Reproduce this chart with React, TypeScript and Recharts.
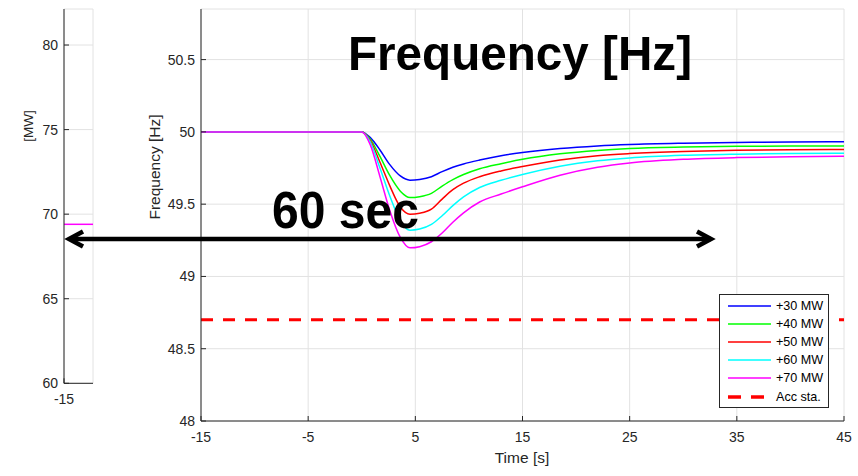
import { LineChart, Line, XAxis, YAxis, CartesianGrid, ReferenceLine } from "recharts";

// time axis in seconds, frequency in Hz
const time = [-15, 0, 0.8, 1.7, 2.6, 3.6, 4.5, 5.4, 6.5, 7.5, 8.5, 9.5, 11, 13, 15, 18.5, 22, 25, 30, 35, 40, 45];
const mw30 = [50, 50, 49.96, 49.875, 49.775, 49.695, 49.666, 49.671, 49.69, 49.725, 49.755, 49.778, 49.805, 49.835, 49.857, 49.885, 49.903, 49.913, 49.922, 49.927, 49.93, 49.931];
const mw40 = [50, 50, 49.95, 49.83, 49.7, 49.59, 49.546, 49.552, 49.575, 49.625, 49.67, 49.705, 49.745, 49.78, 49.81, 49.848, 49.872, 49.885, 49.895, 49.9, 49.902, 49.903];
const mw50 = [50, 50, 49.94, 49.79, 49.63, 49.48, 49.43, 49.437, 49.465, 49.535, 49.6, 49.645, 49.69, 49.73, 49.76, 49.805, 49.835, 49.85, 49.865, 49.873, 49.877, 49.878];
const mw60 = [50, 50, 49.93, 49.75, 49.56, 49.385, 49.32, 49.328, 49.36, 49.42, 49.49, 49.55, 49.615, 49.665, 49.705, 49.762, 49.8, 49.82, 49.838, 49.846, 49.85, 49.852];
const mw70 = [50, 50, 49.91, 49.69, 49.46, 49.27, 49.198, 49.206, 49.24, 49.3, 49.375, 49.44, 49.515, 49.57, 49.62, 49.7, 49.755, 49.785, 49.81, 49.822, 49.828, 49.832];
const accSta = 48.7;

const timeTicks = [-15, -5, 5, 15, 25, 35, 45];
const freqTicks = [48, 48.5, 49, 49.5, 50, 50.5];

// left (cut off) power panel
const mwTime = [-15, -12];
const mwPower = [69.4, 69.4];
const mwTicks = [60, 65, 70, 75, 80];
const mwTimeTicks = [-15];

const series = [
  { key: "mw30", name: "+30 MW", color: "#0000ff", values: mw30 },
  { key: "mw40", name: "+40 MW", color: "#00ff00", values: mw40 },
  { key: "mw50", name: "+50 MW", color: "#ff0000", values: mw50 },
  { key: "mw60", name: "+60 MW", color: "#00ffff", values: mw60 },
  { key: "mw70", name: "+70 MW", color: "#ff00ff", values: mw70 },
];

const data = time.map((t, i) => {
  const row: Record<string, number> = { t };
  series.forEach((s) => (row[s.key] = s.values[i]));
  return row;
});

const mwData = mwTime.map((t, i) => ({ t, p: mwPower[i] }));

const FONT = "'Liberation Sans', Arial, Helvetica, sans-serif";
const AX = "#262626";
const GRID = "#e2e2e2";

const XTick = (props: any) => {
  const { x, y, payload } = props;
  return (
    <g>
      <line x1={x} x2={x} y1={y - 4} y2={y - 9} stroke={AX} />
      <text x={x} y={y} dy={17} textAnchor="middle" fill={AX} fontSize={14} fontFamily={FONT}>
        {payload.value}
      </text>
    </g>
  );
};

const YTick = (props: any) => {
  const { x, y, payload } = props;
  return (
    <g>
      <line x1={x + 6} x2={x + 11} y1={y} y2={y} stroke={AX} />
      <text x={x} y={y} dy={5} textAnchor="end" fill={AX} fontSize={14} fontFamily={FONT}>
        {payload.value}
      </text>
    </g>
  );
};

export default function App() {
  return (
    <div style={{ position: "absolute", left: 0, top: 0, width: 858, height: 476, background: "#fff", fontFamily: FONT }}>
      <div style={{ position: "absolute", left: 0, top: 0 }}>
        <LineChart width={100} height={476} data={mwData} margin={{ top: 9, right: 7, left: 14, bottom: 62.7 }}>
          <CartesianGrid stroke={GRID} />
          <XAxis
            type="number"
            dataKey="t"
            domain={[-15, -12]}
            ticks={mwTimeTicks}
            interval={0}
            height={30}
            tickSize={0}
            tickMargin={4}
            tick={XTick}
            axisLine={{ stroke: AX }}
          />
          <YAxis
            type="number"
            domain={[60, 82.13]}
            ticks={mwTicks}
            interval={0}
            width={50}
            tickSize={0}
            tickMargin={6}
            tick={YTick}
            axisLine={{ stroke: AX }}
          />
          <Line type="linear" dataKey="p" stroke="#ff00ff" strokeWidth={1.5} dot={false} isAnimationActive={false} />
        </LineChart>
      </div>

      <div style={{ position: "absolute", left: 0, top: 0 }}>
        <LineChart width={858} height={476} data={data} margin={{ top: 9, right: 14, left: 141, bottom: 25 }}>
          <CartesianGrid stroke={GRID} />
          <XAxis
            type="number"
            dataKey="t"
            domain={[-15, 45]}
            ticks={timeTicks}
            interval={0}
            height={30}
            tickSize={0}
            tickMargin={4}
            tick={XTick}
            axisLine={{ stroke: AX }}
          />
          <YAxis
            type="number"
            domain={[48, 50.85]}
            ticks={freqTicks}
            interval={0}
            width={60}
            tickSize={0}
            tickMargin={6}
            tick={YTick}
            axisLine={{ stroke: AX }}
          />
          <ReferenceLine y={accSta} stroke="#ff0000" strokeWidth={3} strokeDasharray="12 10" />
          {series.map((s) => (
            <Line
              key={s.key}
              type="monotone"
              dataKey={s.key}
              stroke={s.color}
              strokeWidth={1.5}
              dot={false}
              isAnimationActive={false}
            />
          ))}
        </LineChart>
      </div>

      <svg width={858} height={476} style={{ position: "absolute", left: 0, top: 0, pointerEvents: "none" }}>
        <text x={28} y={126} transform="rotate(-90 28 126)" textAnchor="middle" dominantBaseline="central" fontSize={13.5} fill={AX} fontFamily={FONT}>
          [MW]
        </text>
        <text x={154} y={167} transform="rotate(-90 154 167)" textAnchor="middle" dominantBaseline="central" fontSize={15.5} fill={AX} fontFamily={FONT}>
          Frequency [Hz]
        </text>
        <text x={522} y={463} textAnchor="middle" fontSize={15.5} fill={AX} fontFamily={FONT}>
          Time [s]
        </text>
        <text x={348} y={70} fontSize={49} fontWeight="bold" fill="#000" fontFamily={FONT} textLength={344} lengthAdjust="spacingAndGlyphs">
          Frequency [Hz]
        </text>
        <text x={272} y={228} fontSize={52} fontWeight="bold" fill="#000" fontFamily={FONT} textLength={147} lengthAdjust="spacingAndGlyphs">
          60 sec
        </text>
        <line x1={70} x2={711} y1={239} y2={239} stroke="#000" strokeWidth={4.5} />
        <polyline points="83,231.5 69,239 83,246.5" fill="none" stroke="#000" strokeWidth={4.5} />
        <polyline points="697,231.5 711,239 697,246.5" fill="none" stroke="#000" strokeWidth={4.5} />
      </svg>

      <div
        style={{
          position: "absolute",
          left: 719,
          top: 294,
          width: 110,
          height: 114,
          boxSizing: "border-box",
          border: `1px solid ${AX}`,
          background: "#fff",
          paddingTop: 2,
          fontSize: 12.6,
          color: "#000",
        }}
      >
        {series.map((s) => (
          <div key={s.key} style={{ display: "flex", alignItems: "center", height: 18.1 }}>
            <svg width={43} height={4} style={{ marginLeft: 8 }}>
              <line x1={0} x2={43} y1={2} y2={2} stroke={s.color} strokeWidth={1.5} />
            </svg>
            <span style={{ marginLeft: 5 }}>{s.name}</span>
          </div>
        ))}
        <div style={{ display: "flex", alignItems: "center", height: 18.1 }}>
          <svg width={43} height={4} style={{ marginLeft: 8 }}>
            <line x1={0} x2={36} y1={2} y2={2} stroke="#ff0000" strokeWidth={3.5} strokeDasharray="13 10" />
          </svg>
          <span style={{ marginLeft: 5 }}>Acc sta.</span>
        </div>
      </div>
    </div>
  );
}
